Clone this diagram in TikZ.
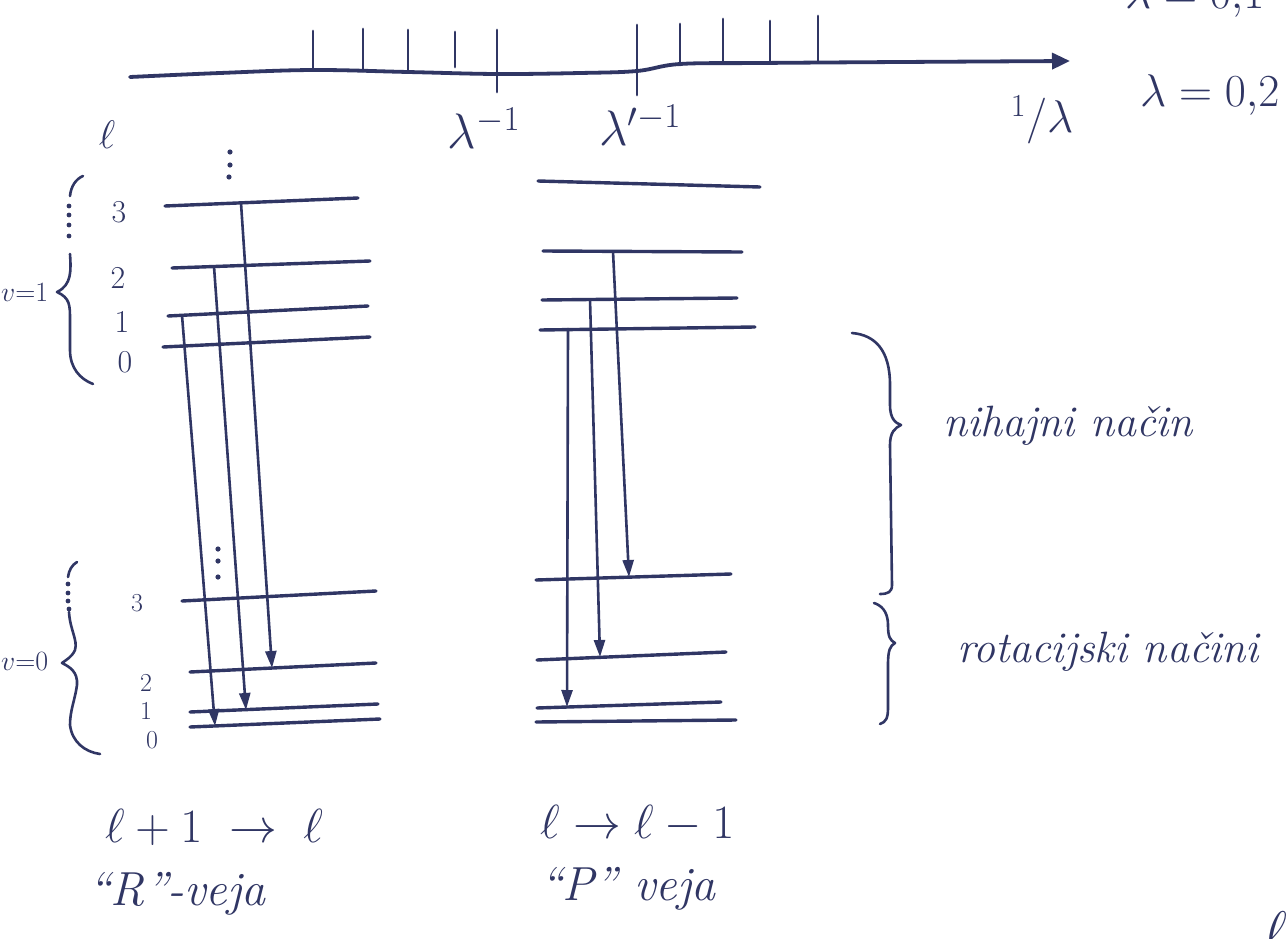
\RequirePackage{fix-cm}
\documentclass[tikz,border=0pt]{standalone}
\usepackage{fontspec}
\usetikzlibrary{arrows.meta}
\definecolor{ink}{RGB}{48,54,100}
\newcommand\hfs[1]{\fontsize{#1}{#1}\selectfont}
\begin{document}
\begin{tikzpicture}[x=1bp,y=-1bp,
  pen/.style={draw=ink,line width=3.4bp,line cap=round,line join=round},
  thinpen/.style={draw=ink,line width=2.6bp,line cap=round,line join=round},
  trans/.style={thinpen,-{Triangle[length=17bp,width=11bp]}},
  lab/.style={text=ink,inner sep=0pt},
  word/.style={lab,font=\hfs{44}\itshape,anchor=base west},
  big/.style={lab,font=\hfs{48},anchor=base west}]
\useasboundingbox (0,0) rectangle (1286,939);
\fill[white] (0,0) rectangle (1286,939);

% ---------- axis ----------
\draw[pen,line width=3.8bp,-{Triangle[length=18bp,width=16bp]}]
  plot[smooth,tension=0.6] coordinates {(130,77) (220,73) (313,70) (408,72) (497,74) (580,73) (637,71) (680,64) (760,63) (900,62) (1070,61)};
\foreach \x/\t/\b in {313/31/70,363/29/71,408/30/72,455/32/67,497/30/92,637/25/95,680/24/65,723/19/63,770/21/63,818/16/62}
  \draw[thinpen,line width=2.8bp] (\x,\t) -- (\x,\b);
\node[lab,font=\hfs{50}] (lamA) at (484,128) {$\lambda^{-1}$};
\node[lab,font=\hfs{50}] (lamB) at (640,125) {$\lambda'^{-1}$};
\node[lab,font=\hfs{46}] (inv) at (1042,120) {${}^{1}/\lambda$};
\node[lab,font=\hfs{46},anchor=base west] (lam) at (1140,106) {$\lambda = 0{,}2$};
\node[lab,font=\hfs{46},anchor=base west] (lamtop) at (1125,8) {$\lambda = 0{,}1$};
\node[lab,font=\hfs{40}] (ell) at (107,135) {$\ell$};
\node[lab,font=\hfs{56},anchor=base] (ellfrag) at (1276,950) {$\ell$};

% ---------- R branch ----------
\fill[ink] (230,152) circle (2.6) (230,165) circle (2.6) (229,177) circle (2.6);
\draw[pen] (165,206) -- (358,198);
\draw[pen] (172,268) -- (370,261);
\draw[pen] (168,316) -- (368,306);
\draw[pen] (163,347) -- (370,337);
\draw[pen] (182,601) -- (376,591);
\draw[pen] (190,672) -- (376,663);
\draw[pen] (190,712) -- (378,704);
\draw[pen] (190,727) -- (380,719);
\fill[ink] (218,549) circle (2.6) (218,561) circle (2.6) (218,577) circle (2.6);

\node[lab,font=\hfs{32}] (u3) at (119,212) {3};
\node[lab,font=\hfs{32}] (u2) at (118,278) {2};
\node[lab,font=\hfs{32}] (u1) at (122,322) {1};
\node[lab,font=\hfs{32}] (u0) at (125,362) {0};
\node[lab,font=\hfs{26}] (l3) at (137,603) {3};
\node[lab,font=\hfs{26}] (l2) at (146,683) {2};
\node[lab,font=\hfs{26}] (l1) at (146,711) {1};
\node[lab,font=\hfs{26}] (l0) at (152,740) {0};

\coordinate (r3s) at (241,203); \coordinate (r3e) at (272,668);
\coordinate (r2s) at (214,266.5); \coordinate (r2e) at (246,710);
\coordinate (r1s) at (182,315.3); \coordinate (r1e) at (215,726);
\draw[trans] (r3s) -- (r3e);
\draw[trans] (r2s) -- (r2e);
\draw[trans] (r1s) -- (r1e);

% left braces
\node[lab,font=\hfs{28},anchor=west] (v1) at (1,293) {$v{=}1$};
\node[lab,font=\hfs{28},anchor=west] (v0) at (1,662) {$v{=}0$};
\draw[thinpen] (83,176) .. controls (76,179) and (71,186) .. (70,196);
\fill[ink] (69,206) circle (2.4) (69,215) circle (2.4) (69,225) circle (2.4) (69,236) circle (2.4);
\draw[thinpen] (70,254) .. controls (71,270) and (72,285) .. (57,292)
  .. controls (70,298) and (70,305) .. (70,320) -- (70,350)
  .. controls (70,368) and (80,379) .. (93,384);
\draw[thinpen] (77,562) .. controls (72,565) and (69,570) .. (68,577);
\fill[ink] (68,584) circle (2.4) (68,593) circle (2.4) (68,601) circle (2.4) (69,609) circle (2.4);
\draw[thinpen] (69,612) .. controls (70,630) and (78,640) .. (75,650)
  .. controls (72,657) and (66,660) .. (62,663)
  .. controls (70,667) and (78,672) .. (77,685)
  .. controls (75,700) and (70,710) .. (70,725)
  .. controls (72,742) and (85,752) .. (100,754);

% ---------- P branch ----------
\draw[pen] (538,181) -- (760,187);
\draw[pen] (543,251) -- (742,252);
\draw[pen] (542,300) -- (737,298);
\draw[pen] (540,330) -- (755,327);
\draw[pen] (536,580) -- (731,574);
\draw[pen] (537,660) -- (726,652);
\draw[pen] (537,708) -- (721,702);
\draw[pen] (536,722) -- (736,720);

\coordinate (p2s) at (613,251.5); \coordinate (p2e) at (629,577);
\coordinate (p1s) at (590,299.5); \coordinate (p1e) at (600,657);
\coordinate (p0s) at (568,329); \coordinate (p0e) at (567,707);
\draw[trans] (p2s) -- (p2e);
\draw[trans] (p1s) -- (p1e);
\draw[trans] (p0s) -- (p0e);

% right braces
\draw[thinpen] (852,333) .. controls (875,335) and (890,350) .. (890,385) -- (890,405)
  .. controls (890,418) and (895,423) .. (901,425)
  .. controls (895,428) and (890,432) .. (890,445) -- (892,585)
  .. controls (892,592) and (888,594) .. (880,594);
\draw[thinpen] (874,603) .. controls (880,605) and (888,610) .. (888,625)
  .. controls (888,637) and (890,640) .. (895,643)
  .. controls (890,646) and (888,650) .. (888,665) -- (888,708)
  .. controls (888,718) and (886,722) .. (880,724);
\node[word] (vib) at (943,436) {nihajni način};
\node[word] (rot) at (957,662) {rotacijski načini};

% ---------- bottom labels ----------
\node[big] (rtr) at (105,842) {$\ell+1\;\rightarrow\;\ell$};
\node[big,font=\hfs{48}\itshape] (rname) at (88,905) {``R''-veja};
\node[big] (ptr) at (540,838) {$\ell\rightarrow\ell-1$};
\node[big,font=\hfs{48}\itshape] (pname) at (540,900) {``P'' veja};
\end{tikzpicture}
\end{document}
